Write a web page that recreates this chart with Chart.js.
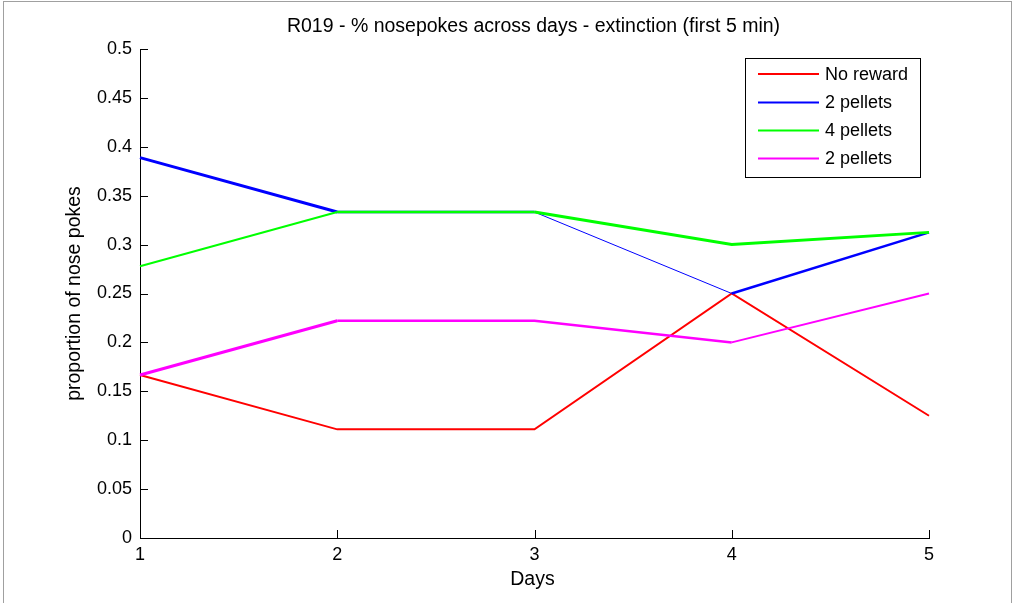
<!DOCTYPE html>
<html><head><meta charset="utf-8">
<script src="https://cdn.jsdelivr.net/npm/chart.js@4.4.0/dist/chart.umd.min.js"></script>
<style>
html,body{margin:0;padding:0;background:#fff;overflow:hidden}
#wrap{position:absolute;left:0;top:0;width:1014px;height:603px}
#frame{position:absolute;left:3px;top:1px;width:1007px;height:640px;border:1px solid #a0a0a0;border-bottom:none;pointer-events:none}
</style></head><body>
<div id="wrap"><canvas id="c" width="1014" height="603"></canvas></div>
<div id="frame"></div>
<script>
// ---- data ----
const days = ['1', '2', '3', '4', '5'];
const noReward    = [0.1667, 0.1111, 0.1111, 0.25, 0.125];
const twoPelletsA = [0.3889, 0.3333, 0.3333, 0.25, 0.3125];
const fourPellets = [0.2778, 0.3333, 0.3333, 0.30, 0.3125];
const twoPelletsB = [0.1667, 0.2222, 0.2222, 0.20, 0.25];
const seriesNames = ['No reward', '2 pellets', '4 pellets', '2 pellets'];
const yTickValues = [0, 0.05, 0.1, 0.15, 0.2, 0.25, 0.3, 0.35, 0.4, 0.45, 0.5];
const chartTitle = 'R019 - % nosepokes across days - extinction (first 5 min)';
const xTitle = 'Days';
const yTitle = 'proportion of nose pokes';

const FONT = '"Liberation Sans", Arial, sans-serif';
const FS = 18;
const TFS = 19.5;

function ds(label, data, color, widths, order) {
  return {
    label, data, borderColor: color, backgroundColor: color,
    borderWidth: 2, pointRadius: 0, tension: 0, fill: false, order,
    segment: { borderWidth: c => widths[c.p0DataIndex] }
  };
}

const tickMarks = {
  id: 'tickMarks',
  afterDraw(chart) {
    const {ctx, chartArea: a, scales: {x, y}} = chart;
    ctx.save();
    ctx.strokeStyle = '#000';
    ctx.lineWidth = 1;
    ctx.beginPath();
    yTickValues.forEach(v => {
      const py = Math.round(y.getPixelForValue(v)) + 0.5;
      ctx.moveTo(a.left, py); ctx.lineTo(a.left + 8, py);
    });
    days.forEach((d, i) => {
      const px = Math.round(x.getPixelForValue(i)) + 0.5;
      ctx.moveTo(px, a.bottom); ctx.lineTo(px, a.bottom - 8);
    });
    ctx.stroke();
    ctx.restore();
  }
};

const texts = {
  id: 'texts',
  afterDraw(chart) {
    const {ctx, chartArea: a} = chart;
    ctx.save();
    ctx.fillStyle = '#000';
    ctx.font = TFS + 'px ' + FONT;
    ctx.textAlign = 'center';
    ctx.textBaseline = 'middle';
    const cx = (a.left + a.right) / 2;
    ctx.fillText(chartTitle, cx - 1, 27);
    ctx.fillText(xTitle, cx - 2, 580);
    ctx.translate(75, (a.top + a.bottom) / 2);
    ctx.rotate(-Math.PI / 2);
    ctx.fillText(yTitle, 0, 0);
    ctx.restore();
  }
};

const legendBox = {
  id: 'legendBox',
  afterDraw(chart) {
    const {ctx} = chart;
    ctx.save();
    ctx.fillStyle = '#fff';
    ctx.fillRect(745, 58, 176, 120);
    ctx.strokeStyle = '#000';
    ctx.lineWidth = 1;
    ctx.strokeRect(745.5, 58.5, 175, 119);
    ctx.font = FS + 'px ' + FONT;
    ctx.textBaseline = 'middle';
    ctx.textAlign = 'left';
    const ys = [74, 102.5, 130.5, 158.5];
    chart.data.datasets.forEach((d, i) => {
      ctx.strokeStyle = d.borderColor;
      ctx.lineWidth = 2;
      ctx.beginPath();
      ctx.moveTo(758, ys[i]); ctx.lineTo(819, ys[i]);
      ctx.stroke();
      ctx.fillStyle = '#000';
      ctx.fillText(d.label, 825, ys[i] + 1);
    });
    ctx.restore();
  }
};

new Chart(document.getElementById('c'), {
  type: 'line',
  data: {
    labels: days,
    datasets: [
      ds(seriesNames[0], noReward,    '#ff0000', [2, 2, 2, 2], 4),
      ds(seriesNames[1], twoPelletsA, '#0000ff', [3, 2.5, 1, 2.5], 3),
      ds(seriesNames[2], fourPellets, '#00ff00', [2, 2.5, 3, 3], 2),
      ds(seriesNames[3], twoPelletsB, '#ff00ff', [3, 2.5, 2.5, 2], 1)
    ]
  },
  options: {
    responsive: false,
    animation: false,
    devicePixelRatio: 1,
    layout: { padding: { top: 49, right: 85, bottom: 0, left: 0 } },
    plugins: { legend: { display: false }, title: { display: false }, tooltip: { enabled: false } },
    scales: {
      x: {
        type: 'category',
        offset: false,
        grid: { display: false, drawTicks: false },
        border: { display: true, color: '#000', width: 1 },
        ticks: { color: '#000', font: { family: FONT, size: FS }, padding: 6, maxRotation: 0, autoSkip: false },
        afterFit: s => { s.height = 65; }
      },
      y: {
        type: 'linear',
        min: 0, max: 0.5,
        afterBuildTicks: s => { s.ticks = yTickValues.map(v => ({ value: v })); },
        grid: { display: false, drawTicks: false },
        border: { display: true, color: '#000', width: 1 },
        ticks: {
          color: '#000', font: { family: FONT, size: FS }, padding: 8,
          callback: v => String(Math.round(v * 100) / 100)
        },
        afterFit: s => { s.width = 140; }
      }
    }
  },
  plugins: [tickMarks, texts, legendBox]
});
</script>
</body></html>
